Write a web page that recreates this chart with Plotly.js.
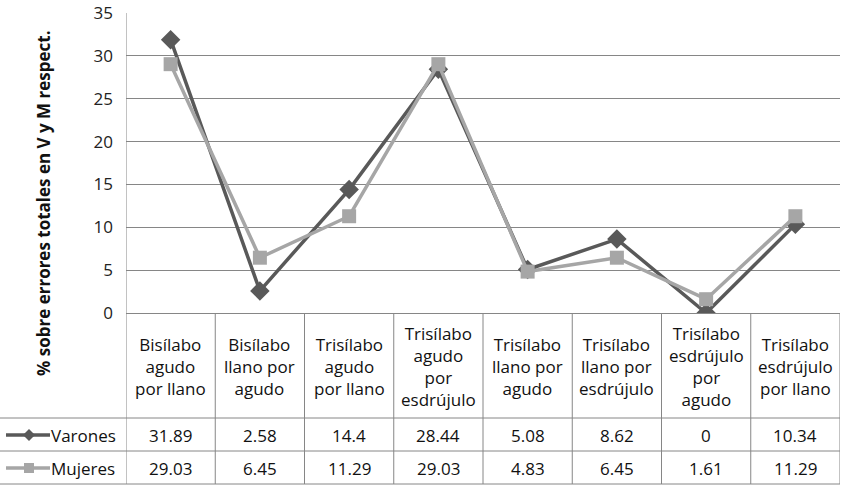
<!DOCTYPE html>
<html>
<head>
<meta charset="utf-8">
<script src="https://cdn.plot.ly/plotly-3.0.1.min.js"></script>
<style>html,body{margin:0;padding:0;background:#fff;}#chart{width:845px;height:489px;}</style>
</head>
<body>
<div id="chart"></div>
<script>
// ---- data ----
var categories = [
  "Bisílabo<br>agudo<br>por llano",
  "Bisílabo<br>llano por<br>agudo",
  "Trisílabo<br>agudo<br>por llano",
  "Trisílabo<br>agudo<br>por<br>esdrújulo",
  "Trisílabo<br>llano por<br>agudo",
  "Trisílabo<br>llano por<br>esdrújulo",
  "Trisílabo<br>esdrújulo<br>por<br>agudo",
  "Trisílabo<br>esdrújulo<br>por llano"
];
var varones = [31.89, 2.58, 14.4, 28.44, 5.08, 8.62, 0, 10.34];
var mujeres = [29.03, 6.45, 11.29, 29.03, 4.83, 6.45, 1.61, 11.29];
var seriesNames = ["Varones", "Mujeres"];
var yTitle = "% sobre errores totales en V y M respect.";
var yTicks = [0, 5, 10, 15, 20, 25, 30, 35];

// ---- layout helpers (pixel -> paper) ----
var W = 845, H = 489, L = 126, R = 5, T = 13, B = 176;
var PW = W - L - R, PH = H - T - B;
function px(x) { return (x - L) / PW; }
function py(y) { return (H - B - y) / PH; }

var FONT = "Open Sans";
var lineCol = "#868686";
var cV = "#595959", cM = "#a6a6a6";

var traces = [
  {x: categories, y: varones, name: seriesNames[0], type: "scatter", mode: "lines+markers",
   line: {color: cV, width: 3.5}, marker: {symbol: "diamond", size: 15, color: cV}},
  {x: categories, y: mujeres, name: seriesNames[1], type: "scatter", mode: "lines+markers",
   line: {color: cM, width: 3.5}, marker: {symbol: "square", size: 14, color: cM}}
];

var shapes = [];
var annotations = [];
// vertical cell boundaries
for (var i = -1; i < categories.length; i++) {
  shapes.push({type: "line", xref: "x", yref: "paper", x0: i + 0.5, x1: i + 0.5,
    y0: py(484), y1: (i === -1 ? 1 : 0), line: {color: lineCol, width: 1}});
}
// horizontal row lines
[418, 451, 484].forEach(function (yy) {
  shapes.push({type: "line", xref: "paper", yref: "paper", x0: px(0), x1: px(840),
    y0: py(yy), y1: py(yy), line: {color: lineCol, width: 1}});
});
// header labels
categories.forEach(function (c) {
  annotations.push({xref: "x", yref: "paper", x: c, y: py(366), text: c, showarrow: false,
    xanchor: "center", yanchor: "middle", align: "center",
    font: {family: FONT, size: 17, color: "#111"}});
});
// value rows
var rows = [varones, mujeres];
var rowY = [435, 468];
rows.forEach(function (vals, r) {
  vals.forEach(function (v, k) {
    annotations.push({xref: "x", yref: "paper", x: categories[k], y: py(rowY[r]), text: String(v),
      showarrow: false, xanchor: "center", yanchor: "middle",
      font: {family: FONT, size: 17, color: "#111"}});
  });
  annotations.push({xref: "paper", yref: "paper", x: px(49), y: py(rowY[r]), text: seriesNames[r],
    showarrow: false, xanchor: "left", yanchor: "middle",
    font: {family: FONT, size: 17, color: "#111"}});
});
// legend keys
function keyLine(yy, col) {
  shapes.push({type: "line", xref: "paper", yref: "paper", x0: px(6), x1: px(50),
    y0: py(yy), y1: py(yy), line: {color: col, width: 3.5}});
}
keyLine(435, cV);
keyLine(468, cM);
var dx = 29, dy = 435, d = 6;
shapes.push({type: "path", xref: "paper", yref: "paper", fillcolor: cV, line: {width: 0},
  path: "M" + px(dx) + "," + py(dy - d) + " L" + px(dx + d) + "," + py(dy) + " L" + px(dx) + "," + py(dy + d) + " L" + px(dx - d) + "," + py(dy) + " Z"});
var sx = 29, sy = 468, s = 5;
shapes.push({type: "rect", xref: "paper", yref: "paper", fillcolor: cM, line: {width: 0},
  x0: px(sx - s), x1: px(sx + s), y0: py(sy + s), y1: py(sy - s)});
// y title
annotations.push({xref: "paper", yref: "paper", x: px(43), y: py(203), text: "<b>" + yTitle + "</b>",
  textangle: -90, showarrow: false, xanchor: "center", yanchor: "middle",
  font: {family: FONT, size: 17, color: "#111"}});

var layout = {
  width: W, height: H,
  margin: {l: L, r: R, t: T, b: B, pad: 0},
  paper_bgcolor: "#fff", plot_bgcolor: "#fff",
  showlegend: false,
  xaxis: {type: "category", range: [-0.5, categories.length - 0.5], showticklabels: false,
    showgrid: false, zeroline: false, showline: true, linecolor: lineCol, linewidth: 1, ticks: "", fixedrange: true},
  yaxis: {range: [0, 35], tickvals: yTicks, showgrid: true, gridcolor: lineCol, gridwidth: 1,
    zeroline: false, showline: false, ticks: "", ticklabelstandoff: 12,
    tickfont: {family: FONT, size: 17, color: "#222"}, fixedrange: true},
  shapes: shapes,
  annotations: annotations
};
Plotly.newPlot("chart", traces, layout, {displayModeBar: false, staticPlot: true});
</script>
</body>
</html>
